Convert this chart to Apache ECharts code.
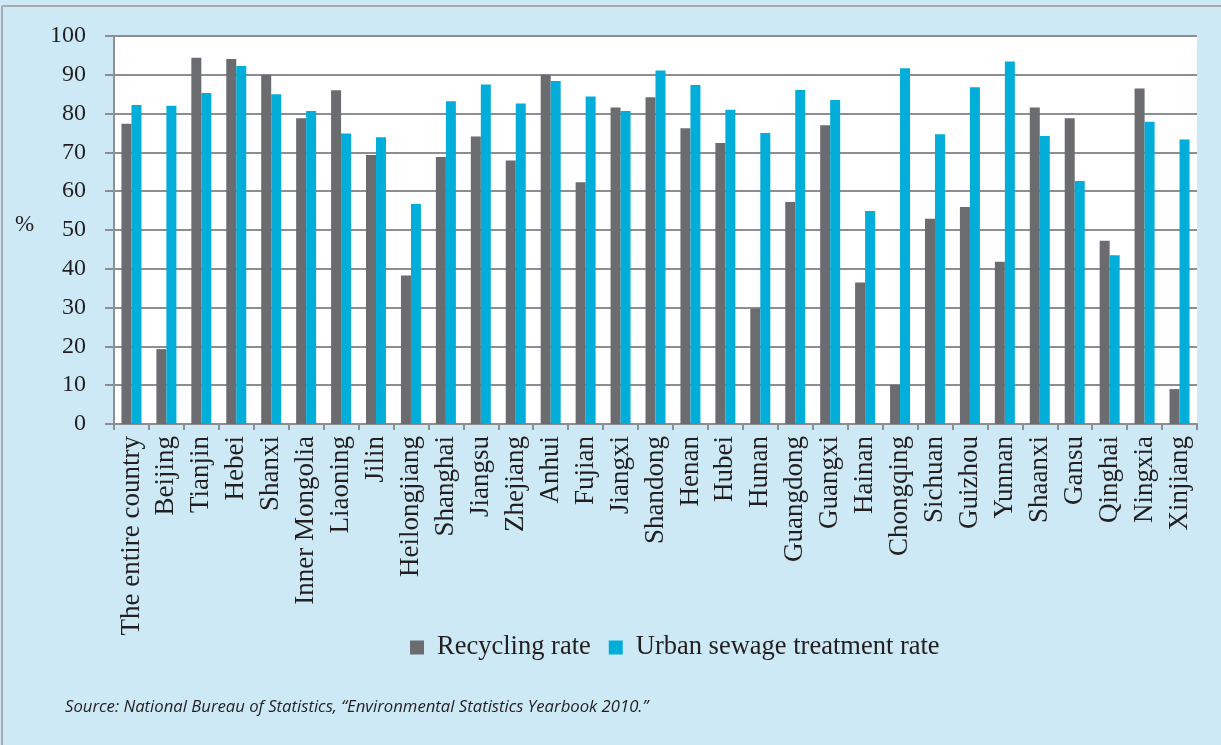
<!DOCTYPE html>
<html>
<head>
<meta charset="utf-8">
<script src="https://cdn.jsdelivr.net/npm/echarts@6/dist/echarts.min.js"></script>
<style>
  html, body { margin: 0; padding: 0; background: #cce9f5; }
  #charts { width: 1221px; height: 745px; }
</style>
</head>
<body>
<div id="charts"></div>
<script>
const regions = ['The entire country', 'Beijing', 'Tianjin', 'Hebei', 'Shanxi', 'Inner Mongolia', 'Liaoning', 'Jilin',
  'Heilongjiang', 'Shanghai', 'Jiangsu', 'Zhejiang', 'Anhui', 'Fujian', 'Jiangxi', 'Shandong', 'Henan', 'Hubei',
  'Hunan', 'Guangdong', 'Guangxi', 'Hainan', 'Chongqing', 'Sichuan', 'Guizhou', 'Yunnan', 'Shaanxi', 'Gansu',
  'Qinghai', 'Ningxia', 'Xinjiang']
const recyclingRate = [77.4, 19.3, 94.4, 94.1, 90.0, 78.8, 86.0, 69.3, 38.3, 68.8, 74.1, 67.9, 90.0, 62.3, 81.6, 84.2,
  76.2, 72.4, 29.8, 57.2, 77.0, 36.5, 10.1, 52.9, 55.9, 41.8, 81.6, 78.8, 47.2, 86.5, 9.0]
const sewageRate = [82.2, 82.0, 85.3, 92.3, 85.0, 80.7, 74.9, 73.9, 56.7, 83.2, 87.5, 82.6, 88.4, 84.4, 80.7, 91.1,
  87.4, 81.0, 75.0, 86.1, 83.5, 54.9, 91.7, 74.7, 86.8, 93.4, 74.2, 62.6, 43.5, 77.9, 73.3]
const yTicks = [0, 100, 10] // min, max, interval

const serif = '"Liberation Serif", "DejaVu Serif", serif'
const txt = '#231f20'
const lineGray = '#8d8e91'

const myChart = echarts.init(document.getElementById('charts'))
const option = {
  animation: false,
  backgroundColor: '#cce9f5',
  textStyle: { fontFamily: serif },
  grid: {
    left: 114, right: 24, top: 36, bottom: 321,
    show: true, backgroundColor: '#ffffff', borderWidth: 0
  },
  legend: {
    left: 405, top: 629,
    itemWidth: 14, itemHeight: 14, itemGap: 18,
    icon: 'rect',
    textStyle: { fontFamily: serif, fontSize: 26.5, color: txt, padding: [0, 0, 0, 8] },
    data: ['Recycling rate', 'Urban sewage treatment rate']
  },
  xAxis: {
    type: 'category',
    data: regions,
    axisLine: { lineStyle: { color: lineGray, width: 2 } },
    axisTick: { show: true, length: 6, lineStyle: { color: lineGray, width: 2 } },
    axisLabel: {
      rotate: 90, interval: 0, margin: 12,
      fontFamily: serif, fontSize: 27, color: txt
    }
  },
  yAxis: {
    type: 'value',
    min: yTicks[0], max: yTicks[1], interval: yTicks[2],
    axisLine: { show: true, lineStyle: { color: lineGray, width: 2 } },
    axisTick: { show: true, inside: false, length: 9, lineStyle: { color: lineGray, width: 2 } },
    splitLine: { lineStyle: { color: lineGray, width: 2 } },
    axisLabel: { margin: 28, fontFamily: serif, fontSize: 24, color: txt }
  },
  graphic: [
    { type: 'line', shape: { x1: 2, y1: 6, x2: 1221, y2: 6 }, style: { stroke: '#a7a9ac', lineWidth: 2 } },
    { type: 'line', shape: { x1: 2, y1: 6, x2: 2, y2: 745 }, style: { stroke: '#a7a9ac', lineWidth: 2 } },
    {
      type: 'text', left: 15, top: 213,
      style: { text: '%', font: '23px ' + serif, fill: txt }
    },
    {
      type: 'text', left: 65, top: 699,
      style: {
        text: 'Source: National Bureau of Statistics, \u201cEnvironmental Statistics Yearbook 2010.\u201d',
        font: 'italic 16.7px "Open Sans", sans-serif', fill: txt
      }
    }
  ],
  series: [
    {
      name: 'Recycling rate',
      type: 'bar',
      barWidth: 10,
      barGap: '0%',
      itemStyle: { color: '#6b6c70' },
      data: recyclingRate
    },
    {
      name: 'Urban sewage treatment rate',
      type: 'bar',
      barWidth: 10,
      itemStyle: { color: '#00aed9' },
      data: sewageRate
    }
  ]
}
myChart.setOption(option)
</script>
</body>
</html>
